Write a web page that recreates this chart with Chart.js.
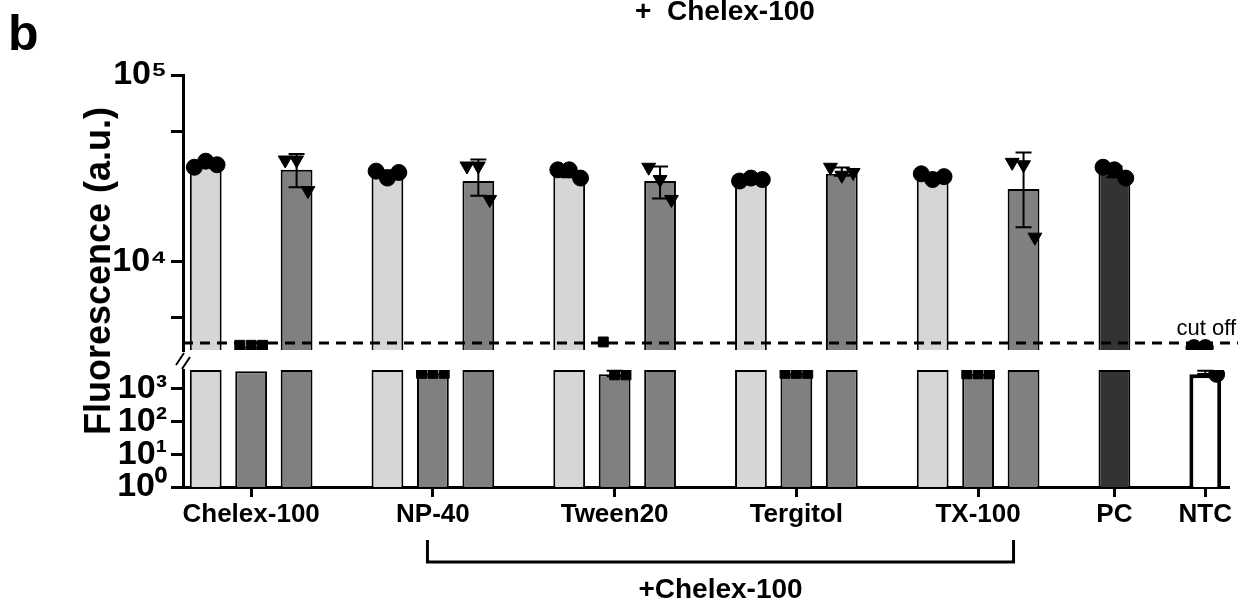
<!DOCTYPE html>
<html>
<head>
<meta charset="utf-8">
<script src="https://cdn.jsdelivr.net/npm/chart.js@4.4.0/dist/chart.umd.min.js"></script>
<style>
  body { margin: 0; background: #fff; }
  #wrap { width: 1250px; height: 606px; }
</style>
</head>
<body>
<div id="wrap"><canvas id="chart" width="1250" height="606"></canvas></div>
<script>
// slots along the x axis, empty strings are spacers between groups
const slotLabels = ["", "Chelex-100", "", " ", "", "NP-40", "", "  ", "", "Tween20", "", "   ",
                    "", "Tergitol", "", "    ", "", "TX-100", "", "     ", "PC", "      ", "NTC"];
const slotKinds = ["L", "M", "D", "", "L", "M", "D", "", "L", "M", "D", "", "L", "M", "D", "",
                   "L", "M", "D", "", "P", "", "N"];
const barValues = [33000, 3500, 31000, null, 29000, 3000, 27000, null, 29000, 2800, 27000, null,
                   27000, 3000, 29500, null, 28000, 2900, 24500, null, 30000, null, 2800];
const replicates = [
    [32000, 34500, 33000], [3550, 3550, 3550], [35000, 35000, 24000], [],
    [30500, 28000, 30000], [3000, 3000, 3000], [32500, 32500, 21500], [],
    [31000, 31000, 28000], [3700, 2700, 2700], [32000, 27500, 21500], [],
    [27000, 28000, 27500], [3000, 3000, 3000], [32000, 29000, 30000], [],
    [29500, 27500, 28500], [2900, 2900, 2900], [34000, 33000, 13500], [],
    [32000, 31000, 28000], [], [3450, 3450, 2800]
];
const upperTicks = [5000, 10000, 50000, 100000];
const lowerTicks = [1, 10, 100, 1000];
const CUT_OFF = 3650;
const UPPER_MIN = 3350, UPPER_MAX = 100000;
const LOWER_MIN = 1, LOWER_MAX = 3800;

const fillFor = { L: "#d6d6d6", M: "#808080", D: "#808080", P: "#333333", N: "#ffffff" };
const shapeFor = { L: "circle", M: "rect", D: "triangle", P: "circle", N: "circle" };
const supers = { "0": "\u2070", "1": "\u00b9", "2": "\u00b2", "3": "\u00b3", "4": "\u2074", "5": "\u2075" };
const FONT = "'Liberation Sans', Arial, sans-serif";

function PowerLabel(v) {
    const p = Math.log10(v);
    if (Math.abs(p - Math.round(p)) > 1e-6) return "";
    return "10" + supers[String(Math.round(p))];
}

function Points(upper) {
    const pts = [];
    replicates.forEach(function (reps, i) {
        const offs = [-0.25, 0, 0.25];
        reps.forEach(function (v, j) {
            if ((v >= UPPER_MIN) === upper) {
                pts.push({ x: i + offs[j], y: v, shape: shapeFor[slotKinds[i]] });
            }
        });
    });
    return pts;
}

const barColors = slotKinds.map(k => fillFor[k] || "#fff");
const barBorderW = slotKinds.map(k => k === "N" ? 4 : 2);

function YAxis(weight, min, max, ticks) {
    return {
        type: "logarithmic", position: "left", stack: "y", stackWeight: weight,
        min: min, max: max,
        afterBuildTicks: function (s) { s.ticks = ticks.map(v => ({ value: v })); },
        afterFit: function (s) { s.width = 143; },
        border: { color: "#000", width: 3 },
        grid: { drawOnChartArea: false, color: "#000", lineWidth: 3, tickLength: 12 },
        ticks: { color: "#000", font: { family: FONT, size: 34, weight: "bold" },
                 callback: PowerLabel, padding: 4, autoSkip: false }
    };
}

const extras = {
    id: "extras",
    afterDatasetsDraw: function (chart) {
        const ctx = chart.ctx, x = chart.scales.x, yt = chart.scales.yTop, yb = chart.scales.yBot;
        const area = chart.chartArea;
        ctx.save();
        // error bars (mean +/- SD)
        ctx.strokeStyle = "#000"; ctx.lineWidth = 2;
        replicates.forEach(function (reps, i) {
            if (reps.length < 2) return;
            const m = reps.reduce((a, b) => a + b, 0) / reps.length;
            const sd = Math.sqrt(reps.reduce((a, b) => a + (b - m) * (b - m), 0) / (reps.length - 1));
            const ax = m >= UPPER_MIN ? yt : yb;
            if (sd < 1) return;
            const px = x.getPixelForValue(i);
            const lo = ax.getPixelForValue(Math.max(m - sd, ax.min)), hi = ax.getPixelForValue(Math.min(m + sd, ax.max));
            ctx.beginPath();
            ctx.moveTo(px, lo); ctx.lineTo(px, hi);
            ctx.moveTo(px - 8, lo); ctx.lineTo(px + 8, lo);
            ctx.moveTo(px - 8, hi); ctx.lineTo(px + 8, hi);
            ctx.stroke();
        });
        // cut-off line
        const cy = yt.getPixelForValue(CUT_OFF);
        ctx.setLineDash([10, 7]); ctx.lineWidth = 3;
        ctx.beginPath(); ctx.moveTo(area.left, cy); ctx.lineTo(1238, cy); ctx.stroke();
        ctx.setLineDash([]);
        ctx.fillStyle = "#000"; ctx.font = "22px " + FONT; ctx.textAlign = "right"; ctx.textBaseline = "bottom";
        ctx.fillText("cut off", 1236, cy - 3);
        // axis break marks
        const by = (yt.bottom + yb.top) / 2;
        ctx.lineWidth = 2;
        ctx.beginPath();
        ctx.moveTo(area.left - 7, by + 5); ctx.lineTo(area.left + 1, by - 7);
        ctx.moveTo(area.left - 1, by + 9); ctx.lineTo(area.left + 7, by - 3);
        ctx.stroke();
        // titles
        ctx.textAlign = "left"; ctx.textBaseline = "alphabetic";
        ctx.font = "bold 50px " + FONT; ctx.fillText("b", 8, 50);
        ctx.textAlign = "center";
        ctx.font = "bold 28px " + FONT; ctx.fillText("+  Chelex-100", 725, 20);
        ctx.save();
        ctx.translate(100, (area.top + area.bottom) / 2 - 10); ctx.rotate(-Math.PI / 2);
        ctx.font = "bold 36px " + FONT; ctx.textBaseline = "middle";
        ctx.fillText("Fluorescence (a.u.)", 0, 0);
        ctx.restore();
        // bracket under detergent groups
        const x1 = x.getPixelForValue(4) + 40, x2 = x.getPixelForValue(18) - 10;
        ctx.lineWidth = 3;
        ctx.beginPath();
        ctx.moveTo(x1, 540); ctx.lineTo(x1, 562); ctx.lineTo(x2, 562); ctx.lineTo(x2, 540);
        ctx.stroke();
        ctx.font = "bold 28px " + FONT; ctx.textBaseline = "alphabetic";
        ctx.fillText("+Chelex-100", (x1 + x2) / 2, 598);
        ctx.restore();
    }
};

const pointOpts = {
    pointStyle: c => c.raw ? c.raw.shape : "circle",
    rotation: c => c.raw && c.raw.shape === "triangle" ? 180 : 0,
    pointRadius: c => c.raw && c.raw.shape === "rect" ? 7 : 8,
    backgroundColor: "#000", borderColor: "#000", borderWidth: 1, showLine: false
};

const barOpts = {
    xAxisID: "x", order: 1, grouped: false,
    backgroundColor: barColors, borderColor: "#000", borderWidth: barBorderW,
    barPercentage: 0.7, categoryPercentage: 1, borderSkipped: "bottom"
};

new Chart(document.getElementById("chart"), {
    type: "bar",
    data: {
        labels: slotLabels,
        datasets: [
            Object.assign({ data: barValues.map(v => v !== null && v >= UPPER_MIN ? v : null), yAxisID: "yTop" }, barOpts),
            Object.assign({ data: barValues.map(v => v !== null ? Math.min(v, LOWER_MAX) : null), yAxisID: "yBot" }, barOpts),
            Object.assign({ type: "scatter", data: Points(true), xAxisID: "xPts", yAxisID: "yTop", order: 0 }, pointOpts),
            Object.assign({ type: "scatter", data: Points(false), xAxisID: "xPts", yAxisID: "yBot", order: 0 }, pointOpts)
        ]
    },
    options: {
        responsive: false,
        animation: false,
        layout: { padding: { top: 75, bottom: 58, left: 40, right: 22 } },
        plugins: { legend: { display: false }, tooltip: { enabled: false } },
        scales: {
            x: {
                type: "category", offset: true,
                afterBuildTicks: function (s) { s.ticks = s.ticks.filter(t => slotLabels[t.value].trim() !== ""); },
                afterFit: function (s) { s.height = 61; },
                border: { color: "#000", width: 3 },
                grid: { drawOnChartArea: false, color: "#000", lineWidth: 3, tickLength: 10, offset: false },
                ticks: { color: "#000", autoSkip: false, maxRotation: 0, padding: 2,
                         font: { family: FONT, size: 26, weight: "bold" } }
            },
            xPts: { type: "linear", display: false, offset: false, grid: { offset: false },
                     min: -0.5, max: slotLabels.length - 0.5 },
            yBot: YAxis(117, LOWER_MIN, LOWER_MAX, lowerTicks),
            yGap: { type: "linear", position: "left", stack: "y", stackWeight: 20, display: true,
                    afterFit: function (s) { s.width = 143; },
                    border: { display: false }, grid: { display: false }, ticks: { display: false } },
            yTop: YAxis(275, UPPER_MIN, UPPER_MAX, upperTicks)
        }
    },
    plugins: [extras]
});
</script>
</body>
</html>
